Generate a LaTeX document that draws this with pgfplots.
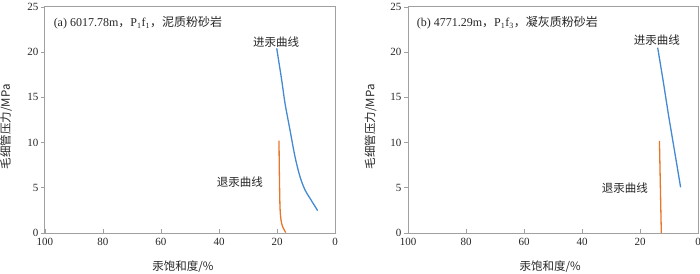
\documentclass[border=0pt]{standalone}
\usepackage{pgfplots}
\pgfplotsset{compat=1.18}
\usepackage{fontspec}
\setmainfont{Liberation Serif}
\newfontfamily\cjk{Noto Sans CJK SC}
\definecolor{injblue}{RGB}{68,138,210}
\definecolor{wdorange}{RGB}{232,118,42}
\definecolor{framegray}{RGB}{160,160,160}
\pgfplotsset{
  myaxis/.style={
    scale only axis, width=290pt, height=226pt,
    x dir=reverse, xmin=0, xmax=100, ymin=0, ymax=25,
    xtick={0,20,40,60,80,100}, ytick={0,5,10,15,20,25},
    axis line style={framegray, line width=1pt},
    tick style={framegray, line width=0.8pt},
    major tick length=4pt,
    tick align=inside,
    xtick pos=bottom, ytick pos=left,
    y tick style={xshift=-4pt},
    ticklabel style={font=\fontsize{11}{12}\selectfont, text=black!85},
    /pgf/number format/assume math mode=true,
    xticklabel style={yshift=-2pt},
    yticklabel style={xshift=-3pt},
    label style={font=\cjk\fontsize{11.5}{12}\selectfont, text=black!85},
  }
}
\begin{document}
\begin{tikzpicture}[x=1pt,y=1pt]
\useasboundingbox (0,0) rectangle (700,273);
\begin{axis}[myaxis, at={(45pt,40pt)}, anchor=south west,
  xlabel={汞饱和度/\%}, ylabel={毛细管压力/MPa},
  xlabel style={at={(axis description cs:0.476,-0.15)}, anchor=center},
  ylabel style={at={(axis description cs:-0.134,0.47)}, anchor=center}]
\addplot[injblue, line width=1.3pt, smooth, tension=0.5] coordinates {
(20.1,20.43) (18.38,16.92) (17.24,14.35) (15.52,11.39) (13.79,8.44) (12.07,6.23) (10.34,4.76) (8.62,3.84) (5.98,2.47)};
\addplot[wdorange, line width=1.3pt, smooth, tension=0.5] coordinates {
(19.31,10.21) (19.2,6.97) (18.97,2.91) (18.62,1.44) (18.05,0.7) (17.0,0.05)};
\node[anchor=west, font=\fontsize{12}{13}\selectfont, text=black!85] at (rel axis cs:0.018,0.93) {(a) 6017.78m{\cjk ，}P\textsubscript{1}f\textsubscript{1}{\cjk ，泥质粉砂岩}};
\node[font=\cjk\fontsize{11.5}{12}\selectfont, text=black!85] at (axis cs:20.3,21.1) {进汞曲线};
\node[font=\cjk\fontsize{11.5}{12}\selectfont, text=black!85] at (axis cs:32.8,5.6) {退汞曲线};
\end{axis}
\begin{axis}[myaxis, at={(408pt,40pt)}, anchor=south west,
  xlabel={汞饱和度/\%}, ylabel={毛细管压力/MPa},
  xlabel style={at={(axis description cs:0.49,-0.15)}, anchor=center},
  ylabel style={at={(axis description cs:-0.129,0.47)}, anchor=center}]
\addplot[injblue, line width=1.3pt] coordinates {
(13.9,20.5) (12.0,16.8) (10.1,12.9) (8.0,8.9) (6.0,5.05)};
\addplot[wdorange, line width=1.3pt] coordinates {
(13.3,10.2) (12.65,0)};
\node[anchor=west, font=\fontsize{12}{13}\selectfont, text=black!85] at (rel axis cs:0.018,0.93) {(b) 4771.29m{\cjk ，}P\textsubscript{1}f\textsubscript{3}{\cjk ，凝灰质粉砂岩}};
\node[font=\cjk\fontsize{11.5}{12}\selectfont, text=black!85] at (axis cs:14.2,21.3) {进汞曲线};
\node[font=\cjk\fontsize{11.5}{12}\selectfont, text=black!85] at (axis cs:25.2,5.0) {退汞曲线};
\end{axis}
\end{tikzpicture}
\end{document}
